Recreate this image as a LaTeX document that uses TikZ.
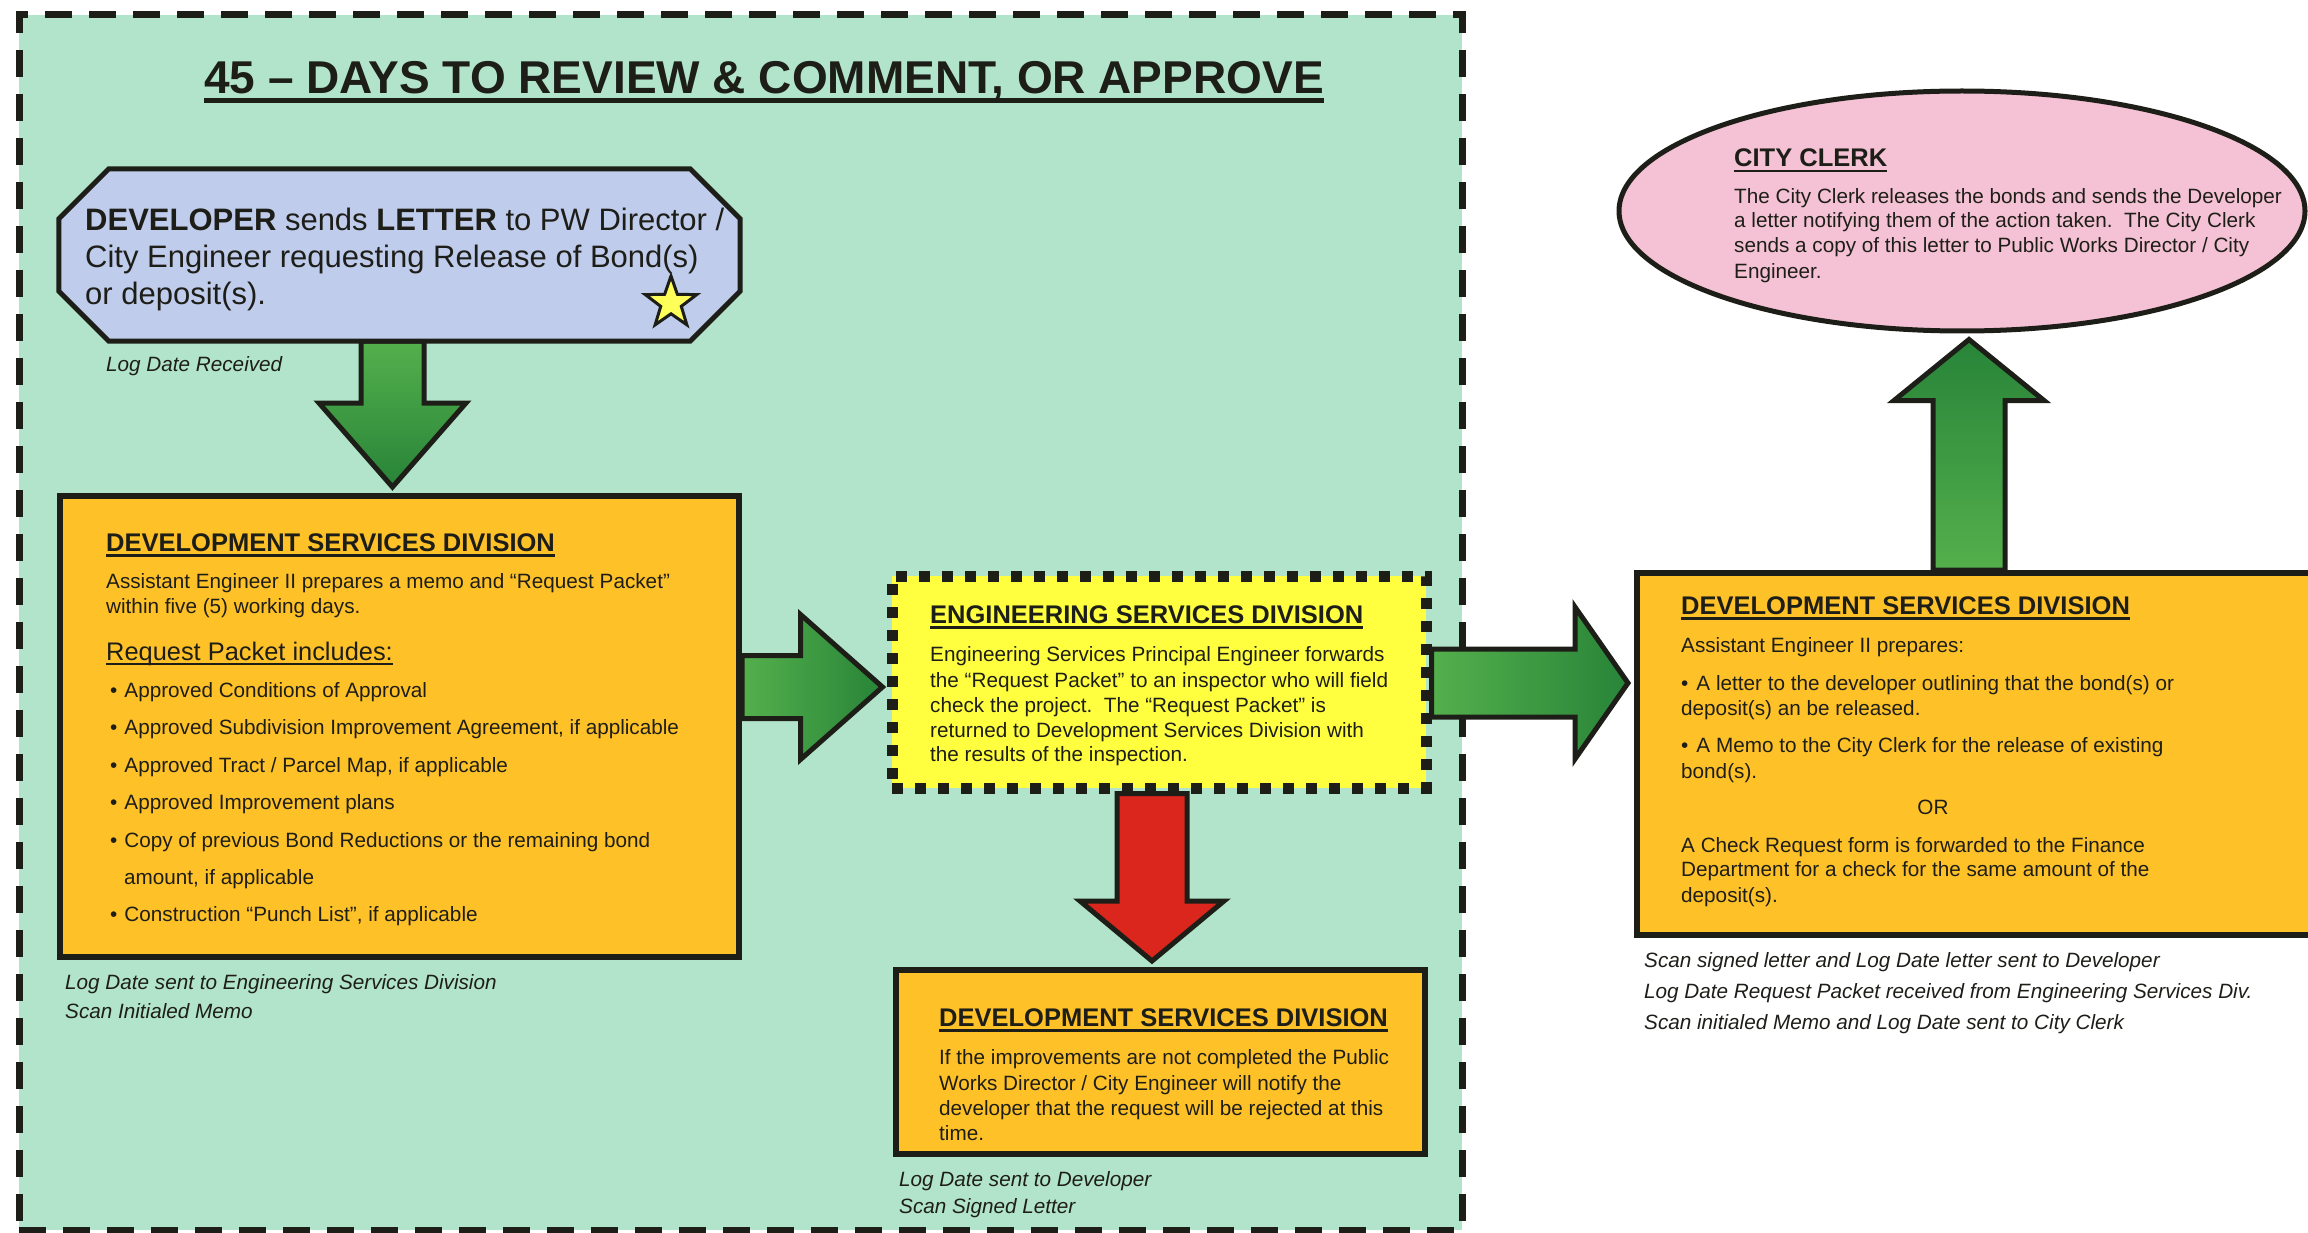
\documentclass[tikz,border=0pt]{standalone}
\usepackage{fontspec}
\setmainfont{Liberation Sans}
\usetikzlibrary{calc,shapes.geometric}
\pgfdeclarelayer{bg}
\pgfdeclarelayer{arr}
\pgfsetlayers{bg,arr,main}

\definecolor{mint}{RGB}{178,228,203}
\definecolor{lavblue}{RGB}{192,204,236}
\definecolor{boxorange}{RGB}{255,193,40}
\definecolor{boxyellow}{RGB}{255,255,64}
\definecolor{clerkpink}{RGB}{244,194,212}
\definecolor{glight}{RGB}{84,176,76}
\definecolor{gdark}{RGB}{40,132,56}
\definecolor{redarrow}{RGB}{218,38,28}
\definecolor{ink}{RGB}{30,30,25}
\definecolor{staryellow}{RGB}{255,255,90}

\newcommand\ulin[3]{\setbox0=\hbox{#3}\rlap{\rule[#1]{\wd0}{#2}}\box0}
\newcommand\tline[4]{\node[#1, anchor=base west] (#2) at (#3) {#4};}

\tikzset{
  txt/.style={inner sep=0pt, text=ink, font=\fontsize{20.7}{25}\selectfont},
  note/.style={inner sep=0pt, text=ink, font=\fontsize{20.7}{25}\selectfont\itshape},
  boxttl/.style={inner sep=0pt, text=ink, font=\fontsize{25.5}{30}\selectfont\bfseries},
  devtxt/.style={inner sep=0pt, text=ink, font=\fontsize{31}{37}\selectfont},
  orangebox/.style={draw=ink, line width=6pt, fill=boxorange, inner sep=0pt},
  yellowbox/.style={draw=ink, line width=11pt, fill=boxyellow, inner sep=0pt, dash pattern=on 11pt off 12pt},
  frame/.style={draw=ink, line width=7pt, fill=mint, inner sep=0pt, dash pattern=on 27pt off 17pt},
  octo/.style={draw=ink, line width=5pt, fill=lavblue, line join=miter},
  blockarrow/.style={draw=ink, line width=5pt, line join=miter},
}

\begin{document}
\begin{tikzpicture}[x=1pt,y=-1pt]
\useasboundingbox (0,0) rectangle (2308,1233);
\clip (0,0) rectangle (2308,1233);

\begin{pgfonlayer}{bg}
\node[frame, minimum width=1443pt, minimum height=1215pt] (frame) at (740.5,622.5) {};
\end{pgfonlayer}

% title
\node[inner sep=0pt, text=ink, font=\fontsize{46}{55}\selectfont\bfseries, anchor=base] (title) at (764,94)
  {\ulin{-9pt}{4.5pt}{45 – DAYS TO REVIEW \& COMMENT, OR APPROVE}};

% developer octagon
\node[inner sep=0pt, minimum width=681pt, minimum height=172pt] (dev) at (399.5,255) {};
\draw[octo] ([xshift=50pt]dev.north west) -- ([xshift=-50pt]dev.north east) -- ([yshift=-50pt]dev.north east)
  -- ([yshift=50pt]dev.south east) -- ([xshift=-50pt]dev.south east) -- ([xshift=50pt]dev.south west)
  -- ([yshift=50pt]dev.south west) -- ([yshift=-50pt]dev.north west) -- cycle;
\tline{devtxt}{dev1}{85,231}{\textbf{DEVELOPER} sends \textbf{LETTER} to PW Director /}
\tline{devtxt}{dev2}{85,268}{City Engineer requesting Release of Bond(s)}
\tline{devtxt}{dev3}{85,305}{or deposit(s).}
\node[star, star points=5, star point ratio=2.5, minimum size=54pt, inner sep=0pt, draw=ink, line width=3pt, fill=staryellow] (star) at (671,303) {};
\tline{note}{logrec}{106,371}{Log Date Received}

% box 1
\node[orangebox, minimum width=679pt, minimum height=461pt] (box1) at (399.5,726.5) {};
\tline{boxttl}{b1t}{106,551}{\ulin{-5.5pt}{2.6pt}{DEVELOPMENT SERVICES DIVISION}}
\tline{txt}{b1a}{106,588}{Assistant Engineer II prepares a memo and “Request Packet”}
\tline{txt}{b1b}{106,613}{within five (5) working days.}
\tline{txt}{b1c}{106,660}{\fontsize{25.4}{30}\selectfont\ulin{-5pt}{2pt}{Request Packet includes:}}
\tline{txt}{b1d}{110,697}{•\hspace{7pt}Approved Conditions of Approval}
\tline{txt}{b1e}{110,734}{•\hspace{7pt}Approved Subdivision Improvement Agreement, if applicable}
\tline{txt}{b1f}{110,772}{•\hspace{7pt}Approved Tract / Parcel Map, if applicable}
\tline{txt}{b1g}{110,809}{•\hspace{7pt}Approved Improvement plans}
\tline{txt}{b1h}{110,847}{•\hspace{7pt}Copy of previous Bond Reductions or the remaining bond}
\tline{txt}{b1i}{124,884}{amount, if applicable}
\tline{txt}{b1j}{110,921}{•\hspace{7pt}Construction “Punch List”, if applicable}
\tline{note}{b1n1}{65,989}{Log Date sent to Engineering Services Division}
\tline{note}{b1n2}{65,1018}{Scan Initialed Memo}

% engineering services (yellow)
\node[yellowbox, minimum width=534pt, minimum height=212pt] (esd) at (1159,682) {};
\tline{boxttl}{et}{930,623}{\ulin{-5.5pt}{2.6pt}{ENGINEERING SERVICES DIVISION}}
\tline{txt}{e1}{930,661}{Engineering Services Principal Engineer forwards}
\tline{txt}{e2}{930,687}{the “Request Packet” to an inspector who will field}
\tline{txt}{e3}{930,712}{check the project.\ \ The “Request Packet” is}
\tline{txt}{e4}{930,737}{returned to Development Services Division with}
\tline{txt}{e5}{930,761}{the results of the inspection.}

% box 3
\node[orangebox, minimum width=529pt, minimum height=184pt] (box3) at (1160.5,1062) {};
\tline{boxttl}{b3t}{939,1026}{\ulin{-5.5pt}{2.6pt}{DEVELOPMENT SERVICES DIVISION}}
\tline{txt}{b3a}{939,1064}{If the improvements are not completed the Public}
\tline{txt}{b3b}{939,1090}{Works Director / City Engineer will notify the}
\tline{txt}{b3c}{939,1115}{developer that the request will be rejected at this}
\tline{txt}{b3d}{939,1140}{time.}
\tline{note}{b3n1}{899,1186}{Log Date sent to Developer}
\tline{note}{b3n2}{899,1213}{Scan Signed Letter}

% box 4
\node[orangebox, minimum width=703pt, minimum height=362pt] (box4) at (1988.5,754) {};
\tline{boxttl}{b4t}{1681,614}{\ulin{-5.5pt}{2.6pt}{DEVELOPMENT SERVICES DIVISION}}
\tline{txt}{b4a}{1681,652}{Assistant Engineer II prepares:}
\tline{txt}{b4b}{1681,690}{•\hspace{8pt}A letter to the developer outlining that the bond(s) or}
\tline{txt}{b4c}{1681,715}{deposit(s) an be released.}
\tline{txt}{b4d}{1681,752}{•\hspace{8pt}A Memo to the City Clerk for the release of existing}
\tline{txt}{b4e}{1681,778}{bond(s).}
\node[txt, anchor=base] (b4or) at (1933,814) {OR};
\tline{txt}{b4f}{1681,852}{A Check Request form is forwarded to the Finance}
\tline{txt}{b4g}{1681,876}{Department for a check for the same amount of the}
\tline{txt}{b4h}{1681,902}{deposit(s).}
\tline{note}{b4n1}{1644,967}{Scan signed letter and Log Date letter sent to Developer}
\tline{note}{b4n2}{1644,998}{Log Date Request Packet received from Engineering Services Div.}
\tline{note}{b4n3}{1644,1029}{Scan initialed Memo and Log Date sent to City Clerk}

% city clerk
\node[ellipse, draw=ink, line width=5pt, fill=clerkpink, minimum width=686pt, minimum height=240pt, inner sep=0pt] (clerk) at (1962,211) {};
\tline{boxttl}{ct}{1734,167}{\ulin{-5pt}{2.4pt}{CITY CLERK}}
\tline{txt}{c1}{1734,204}{The City Clerk releases the bonds and sends the Developer}
\tline{txt}{c2}{1734,228}{a letter notifying them of the action taken.\ \ The City Clerk}
\tline{txt}{c3}{1734,253}{sends a copy of this letter to Public Works Director / City}
\tline{txt}{c4}{1734,279}{Engineer.}

% arrows
\begin{pgfonlayer}{arr}
\draw[blockarrow, top color=glight, bottom color=gdark]
  let \p1=($(dev.south)+(-7,0)$), \p2=($(box1.north)+(-7,-6)$) in
  (\x1-31.5pt,\y1) -- (\x1-31.5pt,\y2+84pt) -- (\x1-73.5pt,\y2+84pt) -- (\x1,\y2)
  -- (\x1+73.5pt,\y2+84pt) -- (\x1+31.5pt,\y2+84pt) -- (\x1+31.5pt,\y1) -- cycle;
\draw[blockarrow, left color=glight, right color=gdark]
  let \p1=(box1.east), \p2=($(esd.west)+(-4,5)$) in
  (\x1,\y2+31.5pt) -- (\x2-82pt,\y2+31.5pt) -- (\x2-82pt,\y2+72.5pt) -- (\x2,\y2)
  -- (\x2-82pt,\y2-72.5pt) -- (\x2-82pt,\y2-31.5pt) -- (\x1,\y2-31.5pt) -- cycle;
\draw[blockarrow, fill=redarrow]
  let \p1=($(esd.south)+(-7,0)$), \p2=($(box3.north)+(-7,-6)$) in
  (\x1-35pt,\y1) -- (\x1-35pt,\y2+60pt) -- (\x1-72pt,\y2+60pt) -- (\x1,\y2)
  -- (\x1+72pt,\y2+60pt) -- (\x1+35pt,\y2+60pt) -- (\x1+35pt,\y1) -- cycle;
\draw[blockarrow, left color=glight, right color=gdark]
  let \p1=(esd.east), \p2=($(box4.west |- esd.east)+(-6,1)$) in
  (\x1,\y2+34pt) -- (\x2-53pt,\y2+34pt) -- (\x2-53pt,\y2+76pt) -- (\x2,\y2)
  -- (\x2-53pt,\y2-76pt) -- (\x2-53pt,\y2-34pt) -- (\x1,\y2-34pt) -- cycle;
\draw[blockarrow, bottom color=glight, top color=gdark]
  let \p1=($(box4.north -| clerk.south)+(7,0)$), \p2=($(clerk.south)+(7,6)$) in
  (\x1-36pt,\y1) -- (\x1-36pt,\y2-61pt) -- (\x1-75pt,\y2-61pt) -- (\x1,\y2)
  -- (\x1+75pt,\y2-61pt) -- (\x1+36pt,\y2-61pt) -- (\x1+36pt,\y1) -- cycle;
\end{pgfonlayer}
\end{tikzpicture}
\end{document}
